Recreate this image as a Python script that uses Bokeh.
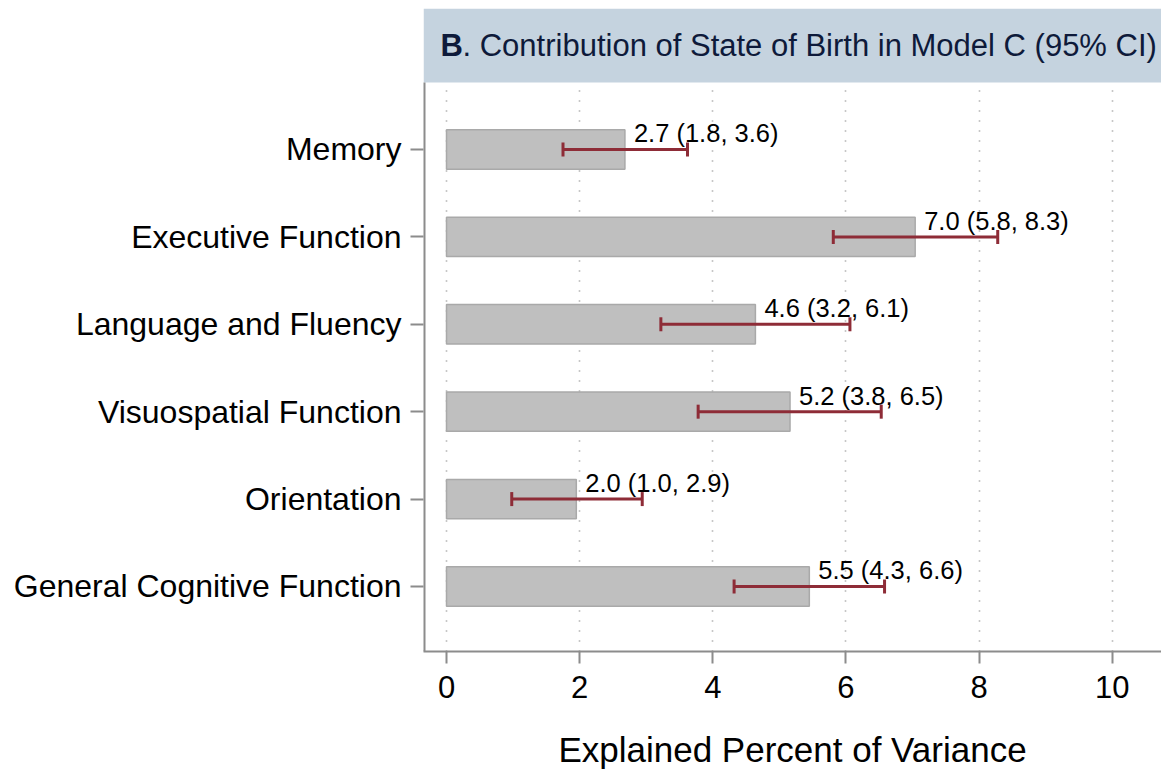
from bokeh.plotting import figure
from bokeh.models import ColumnDataSource, FixedTicker, Whisker, TeeHead
from bokeh.core.properties import value
from bokeh.embed import file_html
from bokeh.resources import INLINE

# ---- data ----
categories = ["Memory", "Executive Function", "Language and Fluency",
              "Visuospatial Function", "Orientation", "General Cognitive Function"]
values = [2.68, 7.04, 4.64, 5.16, 1.95, 5.45]
lower = [1.75, 5.81, 3.22, 3.78, 0.98, 4.32]
upper = [3.62, 8.28, 6.06, 6.53, 2.94, 6.58]
value_labels = ["2.7 (1.8, 3.6)", "7.0 (5.8, 8.3)", "4.6 (3.2, 6.1)",
                "5.2 (3.8, 6.5)", "2.0 (1.0, 2.9)", "5.5 (4.3, 6.6)"]
x_ticks = [0, 2, 4, 6, 8, 10]
title_bold = "B"
title_rest = ". Contribution of State of Birth in Model C (95% CI)"
x_title = "Explained Percent of Variance"

FONT = "Liberation Sans"
n = len(categories)
ypos = [n - 1 - i for i in range(n)]

src = ColumnDataSource(dict(y=ypos, v=values, lo=lower, hi=upper,
                            lab=value_labels, zero=[0] * n))

x_start, x_end = -0.3455, 10.74
y_start, y_end = -0.744, 6.613
band_bottom = 5.767

p = figure(frame_width=738, frame_height=643,
           x_range=(x_start, x_end), y_range=(y_start, y_end),
           output_backend="svg", toolbar_location=None,
           min_border_left=423, min_border_right=0,
           min_border_top=8, min_border_bottom=120)
p.outline_line_color = None
p.background_fill_color = "white"
p.border_fill_color = "white"

# grid
p.ygrid.visible = False
p.xgrid.ticker = FixedTicker(ticks=x_ticks)
p.xgrid.grid_line_color = "#8f8f8f"
p.xgrid.grid_line_width = 1.6
p.xgrid.grid_line_dash = "1 9"

# title band
p.quad(left=[x_start], right=[x_end], bottom=[band_bottom], top=[y_end],
       fill_color="#c5d3df", line_color=None)
p.text(x=[x_start], y=[(band_bottom + y_end) / 2], text=[title_bold],
       x_offset=17, text_baseline="middle", text_align="left",
       text_font=value(FONT), text_font_size="31px", text_font_style="bold",
       text_color="#0e1a3a")
p.text(x=[x_start], y=[(band_bottom + y_end) / 2], text=[title_rest],
       x_offset=39, text_baseline="middle", text_align="left",
       text_font=value(FONT), text_font_size="31px",
       text_color="#0e1a3a")

# left axis line (stops under title band)
p.segment(x0=[x_start], y0=[y_start], x1=[x_start], y1=[band_bottom],
          line_color="#8c8c8c", line_width=4)

# bars
p.hbar(y="y", left="zero", right="v", height=0.45, source=src,
       fill_color="#bfbfbf", line_color="#a9a9a9", line_width=1.5)

# error bars
red = "#8e2c37"
w = Whisker(source=src, base="y", lower="lo", upper="hi", dimension="width",
            line_color=red, line_width=3,
            upper_head=TeeHead(size=14, line_color=red, line_width=3),
            lower_head=TeeHead(size=14, line_color=red, line_width=3))
w.level = "annotation"
p.add_layout(w)

# value labels
p.text(x="v", y="y", text="lab", source=src, x_offset=9, y_offset=-16,
       text_baseline="alphabetic", text_align="left",
       text_font=value(FONT), text_font_size="25.5px", text_color="black")

# axes
p.xaxis.ticker = FixedTicker(ticks=x_ticks)
p.xaxis.axis_line_color = "#8c8c8c"
p.xaxis.axis_line_width = 2
p.xaxis.major_tick_line_color = "#8c8c8c"
p.xaxis.major_tick_line_width = 2
p.xaxis.major_tick_out = 12
p.xaxis.major_tick_in = 0
p.xaxis.minor_tick_line_color = None
p.xaxis.major_label_text_font = FONT
p.xaxis.major_label_text_font_size = "31px"
p.xaxis.major_label_text_color = "black"
p.xaxis.major_label_standoff = 12
p.xaxis.axis_label = x_title
p.xaxis.axis_label_text_font = FONT
p.xaxis.axis_label_text_font_size = "35px"
p.xaxis.axis_label_text_font_style = "normal"
p.xaxis.axis_label_text_color = "black"
p.xaxis.axis_label_standoff = 29

p.yaxis.ticker = FixedTicker(ticks=ypos)
p.yaxis.major_label_overrides = {yy: c for yy, c in zip(ypos, categories)}
p.yaxis.axis_line_color = None
p.yaxis.major_tick_line_color = "#8c8c8c"
p.yaxis.major_tick_line_width = 2
p.yaxis.major_tick_out = 13
p.yaxis.major_tick_in = 0
p.yaxis.minor_tick_line_color = None
p.yaxis.major_label_text_font = FONT
p.yaxis.major_label_text_font_size = "32px"
p.yaxis.major_label_text_color = "black"
p.yaxis.major_label_standoff = 9

open("out.html", "w").write(file_html(p, INLINE))
